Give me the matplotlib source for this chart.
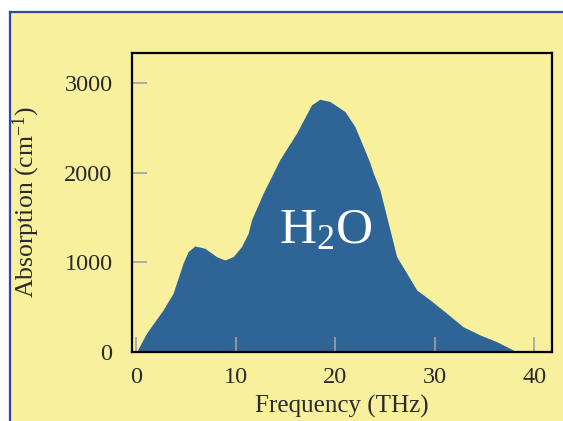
import matplotlib
matplotlib.use("Agg")
import matplotlib.pyplot as plt
from matplotlib.patches import Rectangle
from matplotlib.lines import Line2D

plt.rcParams['font.family'] = ['Liberation Serif', 'DejaVu Serif']
plt.rcParams['mathtext.fontset'] = 'custom'
plt.rcParams['mathtext.rm'] = 'Liberation Serif'
plt.rcParams['mathtext.it'] = 'Liberation Serif:italic'

# Absorption spectrum of water
freq = [0.0, 1.0, 2.67, 3.68, 4.68, 5.19, 5.86, 6.87, 8.05, 8.88, 9.72, 10.56,
        11.23, 11.57, 12.74, 14.42, 16.10, 17.61, 18.45, 19.46, 20.97, 21.97,
        22.81, 23.48, 23.82, 24.49, 24.99, 25.50, 26.17, 27.18, 28.19, 29.53,
        31.21, 32.85, 34.56, 36.24, 37.89, 38.3]
absorption = [0, 209, 469, 655, 990, 1120, 1183, 1158, 1064, 1027, 1064, 1176,
              1325, 1474, 1772, 2147, 2442, 2758, 2821, 2795, 2683, 2515,
              2292, 2110, 1995, 1809, 1585, 1362, 1064, 879, 692, 581,
              432, 282, 190, 115, 22, 0]
tail_x = [38.3, 41.8]
tail_y = [0, 0]

xticks = [0, 10, 20, 30, 40]
yticks = [0, 1000, 2000, 3000]

bg = '#f8f09c'
blue = '#2e6496'
border = '#2a48a8'
txt = '#2a2a2a'

fig = plt.figure(figsize=(5.63, 4.21), dpi=100)
fig.patch.set_facecolor('white')
fig.patches.append(Rectangle((10 / 563, 0), 1, 1 - 11 / 421, transform=fig.transFigure,
                             facecolor=bg, edgecolor='none', zorder=-10))
fig.lines.append(Line2D([9.5 / 563, 9.5 / 563], [0, 1 - 11.5 / 421], transform=fig.transFigure,
                        color=border, lw=1.6))
fig.lines.append(Line2D([9.5 / 563, 1], [1 - 11.5 / 421, 1 - 11.5 / 421], transform=fig.transFigure,
                        color=border, lw=1.6))

ax = fig.add_axes([0.2345, 0.1639, 0.746, 0.711])
ax.set_facecolor(bg)
ax.fill_between(freq, absorption, 0, color=blue, lw=0, zorder=1)
ax.plot(tail_x, tail_y, color='#e07850', lw=1.5, zorder=2, clip_on=False)

ax.set_xlim(-0.45, 41.8)
ax.set_ylim(0, 3340)
ax.set_xticks(xticks)
ax.set_yticks(yticks)
ax.tick_params(axis='both', direction='in', length=11, width=1.2, colors='#a0a0a8',
               labelcolor=txt, labelsize=17.5, pad=11)
ax.tick_params(axis='y', pad=14)
for s in ax.spines.values():
    s.set_linewidth(1.6)
    s.set_color('black')
    s.set_zorder(5)

ax.set_xlabel('Frequency (THz)', fontsize=18, color=txt, labelpad=5)
ax.set_ylabel(r'Absorption (cm$^{-1}$)', fontsize=18.5, color=txt, labelpad=16)

ax.text(19.0, 1220, r'$\mathrm{H_2O}$', color='white', fontsize=37, ha='center',
        va='baseline', zorder=3)

fig.savefig('out.png', dpi=100, facecolor=fig.get_facecolor())
